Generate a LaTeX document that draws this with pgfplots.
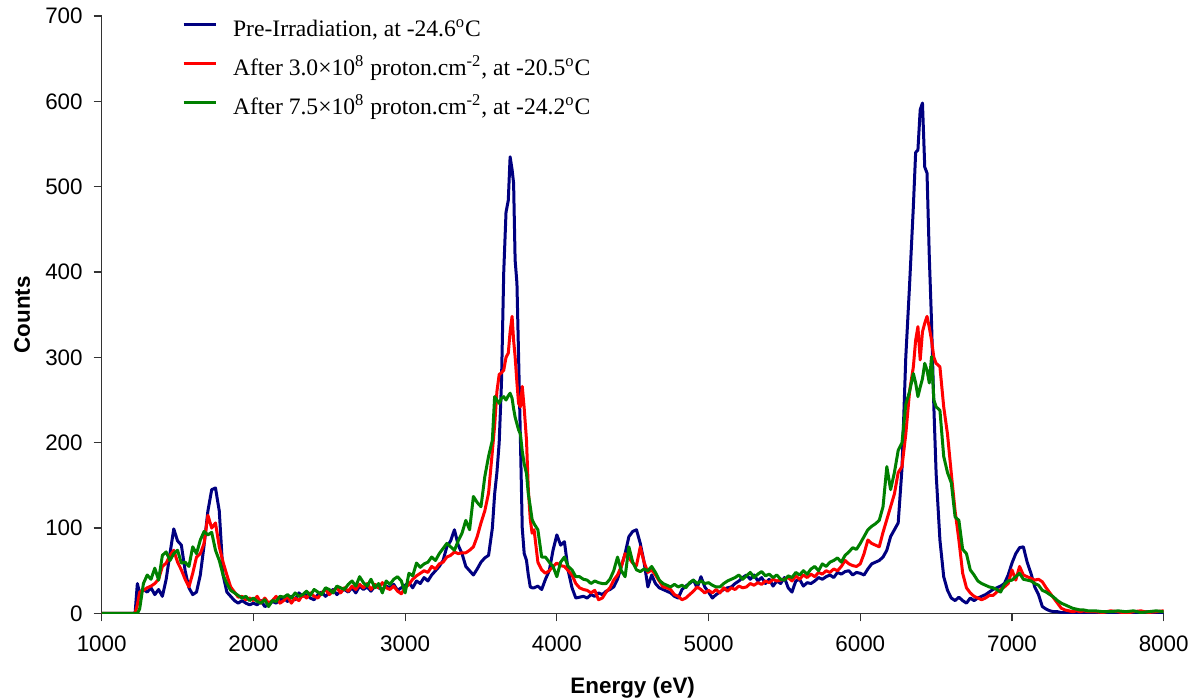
\documentclass[border=0pt]{standalone}
\usepackage{fontspec}
\setmainfont{Liberation Sans}
\newfontfamily\legfont{Liberation Serif}
\usepackage{pgfplots}
\usepackage{pgfplotstable}
\pgfplotsset{compat=1.18}
\definecolor{cblue}{RGB}{0,0,128}
\definecolor{cred}{RGB}{255,0,0}
\definecolor{cgreen}{RGB}{0,128,0}
\pgfplotstableread{
E B R G
1000 0 0 0
1220 0 0 0
1235 35 10 0
1250 24 25 5
1275 28 27 35
1300 25 30 45
1325 30 32 40
1350 22 35 53
1375 28 40 39
1400 20 55 68
1425 40 59 72
1450 70 68 62
1475 99 74 70
1500 85 60 74
1525 80 51 59
1550 50 40 60
1575 30 31 55
1600 22 47 78
1625 25 66 70
1650 45 70 86
1675 80 82 96
1700 120 115 92
1725 145 100 95
1750 147 106 74
1775 120 78 62
1800 45 60 45
1825 25 45 35
1850 20 31 27
1875 15 25 24
1900 12 19 21
1925 15 20 18
1950 12 16 20
1975 10 18 15
2000 12 15 18
2025 10 20 14
2050 15 12 12
2075 8 18 16
2100 10 12 8
2125 14 15 15
2150 12 20 14
2175 16 12 20
2200 18 15 19
2225 14 20 22
2250 20 12 18
2275 16 18 24
2300 24 15 20
2325 20 22 22
2350 22 18 26
2375 18 24 21
2400 16 20 28
2425 22 18 25
2450 25 24 22
2475 20 28 30
2500 24 22 28
2525 28 26 24
2550 22 30 32
2575 26 24 30
2600 28 30 28
2625 25 26 34
2650 30 32 38
2675 24 28 32
2700 32 34 43
2725 28 30 36
2750 31 35 32
2775 26 28 40
2800 32 34 30
2825 30 30 35
2850 28 36 24
2875 32 30 38
2900 30 28 34
2925 34 32 40
2950 27 26 43
2975 30 23 38
3000 33 30 24
3025 36 34 47
3050 30 40 44
3075 38 44 59
3100 35 47 54
3125 42 50 58
3150 38 48 60
3175 45 55 66
3200 50 52 62
3225 55 58 70
3250 62 60 76
3275 78 66 82
3300 85 68 78
3325 98 72 74
3350 80 70 85
3375 70 71 94
3400 55 71 109
3425 50 74 98
3450 45 78 137
3475 52 90 130
3500 60 106 125
3525 65 120 160
3550 68 141 184
3575 100 190 203
3590 140 220 254
3605 165 260 250
3620 200 280 246
3635 270 282 252
3650 400 285 254
3665 470 300 250
3680 484 305 255
3692 535 330 258
3705 520 348 252
3715 504 320 240
3725 414 301 230
3737 387 270 222
3748 300 246 215
3760 203 242 210
3772 100 266 190
3785 70 240 175
3800 62 203 164
3812 45 145 140
3825 31 110 125
3837 30 94 110
3850 30 98 105
3875 32 60 98
3900 28 51 66
3925 40 47 66
3950 50 50 60
3975 74 55 55
4000 92 59 43
4025 80 56 60
4050 84 55 66
4075 50 50 55
4100 30 45 51
4125 18 35 43
4150 19 30 43
4175 20 28 40
4200 18 27 39
4225 22 24 35
4250 20 27 38
4275 24 16 36
4300 22 18 35
4325 26 25 35
4350 28 30 40
4375 31 39 50
4400 40 45 66
4425 55 55 50
4450 70 70 43
4475 90 65 78
4500 96 59 60
4525 98 56 51
4550 82 78 49
4575 60 60 52
4600 31 48 50
4625 45 51 55
4650 35 45 48
4675 30 38 39
4700 28 31 35
4725 26 30 33
4750 24 28 31
4775 20 22 34
4800 18 20 31
4825 28 16 33
4850 32 18 30
4875 35 22 36
4900 39 26 39
4925 30 31 35
4950 43 28 38
4975 31 24 35
5000 25 27 36
5025 18 24 33
5050 22 28 31
5075 25 24 31
5100 28 30 35
5125 30 26 38
5150 31 30 40
5175 35 28 42
5200 38 32 45
5225 42 30 40
5250 45 31 44
5275 40 35 48
5300 45 33 42
5325 38 36 46
5350 42 34 49
5375 35 38 44
5400 40 36 46
5425 32 40 42
5450 38 38 45
5475 35 39 40
5500 42 40 39
5525 30 42 44
5550 25 38 42
5575 38 44 48
5600 40 40 45
5625 32 45 50
5650 36 42 46
5675 35 46 52
5700 38 43 55
5725 42 48 50
5750 40 46 58
5775 43 50 55
5800 45 48 60
5825 42 52 62
5850 48 50 65
5875 46 55 60
5900 49 62 68
5925 50 58 72
5950 45 56 77
5975 48 55 75
6000 47 58 82
6025 45 70 90
6050 52 86 98
6075 58 82 102
6100 60 80 105
6125 62 78 109
6150 66 95 125
6175 74 110 172
6200 90 125 145
6225 98 140 165
6250 106 165 191
6275 170 172 200
6300 300 210 245
6325 385 260 260
6350 477 289 281
6365 540 320 270
6380 543 336 254
6395 590 297 265
6410 598 330 275
6425 523 340 293
6440 516 348 285
6455 418 335 270
6470 340 320 301
6485 242 300 250
6500 164 293 242
6525 86 289 238
6550 43 242 184
6575 27 210 165
6600 18 164 153
6625 15 120 113
6650 19 86 109
6675 15 47 75
6700 12 30 70
6725 18 24 51
6750 15 20 45
6775 18 18 38
6800 20 16 35
6825 22 18 33
6850 25 21 31
6875 28 21 30
6900 30 25 28
6925 32 28 25
6950 35 31 34
6975 45 35 38
7000 59 51 39
7025 70 39 43
7050 77 55 47
7075 78 45 40
7100 60 43 39
7125 47 41 38
7150 31 39 35
7175 22 40 33
7200 8 37 27
7225 5 30 25
7250 3 24 22
7275 2 18 19
7300 2 12 15
7325 1 6 12
7350 1 4 10
7375 0 3 8
7400 1 2 6
7425 0 3 5
7450 1 2 4
7475 0 3 4
7500 1 2 3
7550 0 2 3
7600 2 1 2
7650 0 3 2
7700 1 2 3
7750 2 0 2
7800 0 2 3
7850 1 3 1
7900 2 1 2
7950 0 2 3
8000 1 3 2
}\spectra
\begin{document}
\begin{tikzpicture}
\begin{axis}[
  name=ax,
  scale only axis, width=531pt, height=298.7pt,
  xmin=1000, xmax=8000, ymin=0, ymax=700,
  xtick={1000,2000,...,8000}, ytick={0,100,...,700},
  axis x line*=bottom, axis y line*=left,
  tick align=outside, major tick length=4pt,
  tick style={black!80, line width=0.6pt},
  axis line style={black!80, line width=0.6pt},
  /pgf/number format/1000 sep={},
  /pgf/number format/assume math mode=true,
  ticklabel style={font=\fontsize{11.2}{13}\selectfont},
  xticklabel style={yshift=-3.5pt},
  yticklabel style={xshift=-2pt},
  xlabel={\textbf{Energy (eV)}}, ylabel={\textbf{Counts}},
  label style={font=\fontsize{11.2}{13}\selectfont},
  xlabel style={at={(axis description cs:0.5,0)}, anchor=center, yshift=-37.3pt},
  ylabel style={at={(axis description cs:0,0.5)}, anchor=center, yshift=39.8pt},
  legend style={draw=none, fill=none, at={(axis description cs:0,1)}, anchor=north west,
    xshift=40pt, yshift=-1.5pt, inner sep=0pt, row sep=8.5pt,
    font=\legfont\fontsize{11.8}{13}\selectfont,
    nodes={inner sep=0pt, text height=8.5pt, text depth=2.5pt},
    /tikz/every odd column/.append style={column sep=8pt}},
  legend cell align=left,
  legend image code/.code={\draw[#1] (0pt,3pt) -- (16pt,3pt);},
  every axis plot/.append style={line width=1.5pt, line join=round},
]
\addplot[cblue, no marks] table[x=E, y=B] {\spectra};
\addlegendentry{Pre-Irradiation, at -24.6\textsuperscript{o}C}
\addplot[cred, no marks] table[x=E, y=R] {\spectra};
\addlegendentry{After 3.0×10\textsuperscript{8} proton.cm\textsuperscript{-2}, at -20.5\textsuperscript{o}C}
\addplot[cgreen, no marks] table[x=E, y=G] {\spectra};
\addlegendentry{After 7.5×10\textsuperscript{8} proton.cm\textsuperscript{-2}, at -24.2\textsuperscript{o}C}
\end{axis}
\pgfresetboundingbox
\path[use as bounding box] (-50.85pt,-42.85pt) rectangle (548.65pt,306.7pt);
\end{tikzpicture}
\end{document}
